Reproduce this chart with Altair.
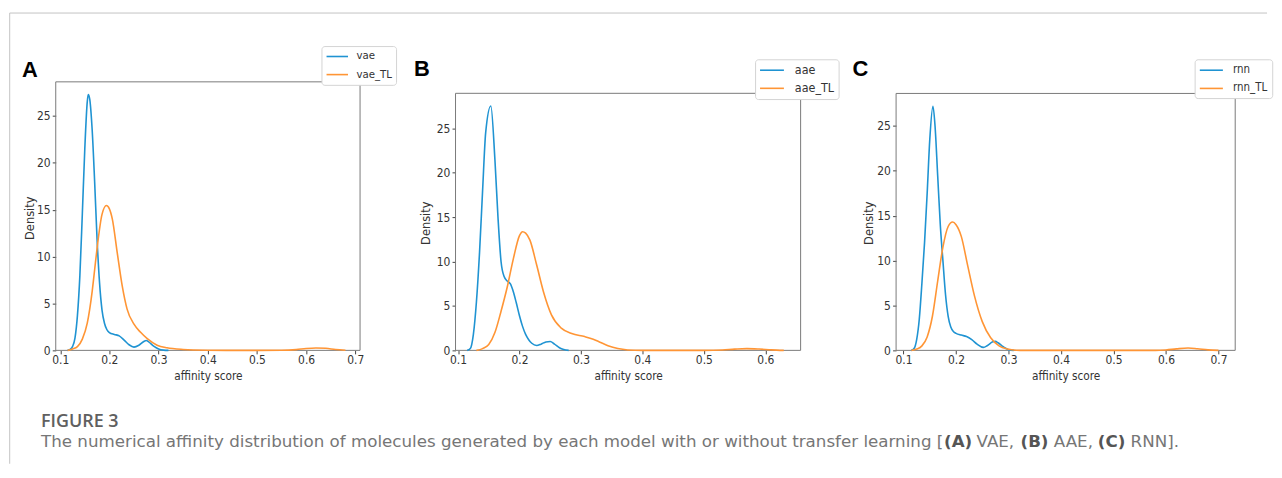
import altair as alt
import pandas as pd

BLUE = "#1f93d2"
ORANGE = "#ff9535"

Y_TICKS = [0, 5, 10, 15, 20, 25]

# ---- Panel A : vae ----
A_SERIES = ["vae", "vae_TL"]
A_VAE_X = [0.115, 0.12, 0.125, 0.13, 0.135, 0.14, 0.145, 0.15, 0.155, 0.157, 0.16, 0.165, 0.17, 0.175,
           0.18, 0.185, 0.19, 0.195, 0.2, 0.21, 0.22, 0.23, 0.24, 0.25, 0.26, 0.27, 0.275, 0.28, 0.29,
           0.3, 0.31, 0.32]
A_VAE_Y = [0, 0.1, 0.4, 1.3, 3.7, 8.0, 14.6, 21.5, 26.5, 27.3, 26.8, 23.5, 18.0, 11.8,
           7.2, 4.3, 2.9, 2.2, 1.9, 1.7, 1.55, 1.1, 0.6, 0.35, 0.55, 0.95, 1.05, 0.9, 0.45,
           0.15, 0.03, 0]
A_TL_X = [0.115, 0.125, 0.135, 0.145, 0.155, 0.16, 0.165, 0.17, 0.175, 0.185, 0.194, 0.2, 0.206,
          0.216, 0.226, 0.236, 0.25, 0.263, 0.277, 0.297, 0.317, 0.35, 0.4, 0.45, 0.55, 0.58, 0.6,
          0.62, 0.64, 0.66, 0.68]
A_TL_Y = [0, 0.15, 0.4, 1.2, 2.9, 4.4, 6.3, 8.6, 10.9, 14.5, 15.45, 15.1, 14.0,
          10.4, 6.9, 4.4, 2.8, 1.95, 1.25, 0.55, 0.27, 0.1, 0.02, 0, 0.01, 0.08, 0.2,
          0.26, 0.22, 0.1, 0.02]
A_XTICKS = [0.1, 0.2, 0.3, 0.4, 0.5, 0.6, 0.7]

# ---- Panel B : aae ----
B_SERIES = ["aae", "aae_TL"]
B_AAE_X = [0.115, 0.12, 0.125, 0.13, 0.135, 0.14, 0.145, 0.1534, 0.16, 0.165, 0.17, 0.175, 0.18,
           0.185, 0.19, 0.195, 0.2, 0.205, 0.21, 0.215, 0.22, 0.228, 0.235, 0.243, 0.25, 0.257,
           0.265, 0.272, 0.28]
B_AAE_Y = [0, 0.2, 1.8, 5.5, 11.0, 18.0, 24.5, 27.5, 21.5, 15.0, 10.0, 8.3, 7.8,
           7.5, 6.6, 5.3, 3.9, 2.7, 1.8, 1.2, 0.8, 0.55, 0.7, 0.95, 1.0, 0.7,
           0.3, 0.1, 0]
B_TL_X = [0.13, 0.14, 0.15, 0.16, 0.17, 0.18, 0.19, 0.2, 0.205, 0.21, 0.217, 0.228, 0.239, 0.252,
          0.268, 0.285, 0.306, 0.32, 0.33, 0.344, 0.36, 0.376, 0.4, 0.5, 0.53, 0.55, 0.57, 0.59,
          0.61, 0.63]
B_TL_Y = [0, 0.2, 0.65, 2.0, 4.4, 7.1, 10.3, 12.9, 13.35, 13.2, 12.4, 9.6, 6.6, 4.0,
          2.5, 1.9, 1.55, 1.25, 0.95, 0.52, 0.2, 0.05, 0, 0, 0.05, 0.14, 0.2, 0.15,
          0.06, 0]
B_XTICKS = [0.1, 0.2, 0.3, 0.4, 0.5, 0.6]

# ---- Panel C : rnn ----
C_SERIES = ["rnn", "rnn_TL"]
C_RNN_X = [0.115, 0.12, 0.125, 0.13, 0.135, 0.14, 0.145, 0.15, 0.156, 0.16, 0.165, 0.17, 0.175,
           0.18, 0.185, 0.19, 0.195, 0.2, 0.21, 0.22, 0.23, 0.24, 0.252, 0.26, 0.27, 0.275, 0.28,
           0.29, 0.3, 0.31]
C_RNN_Y = [0, 0.2, 1.2, 3.5, 7.5, 12.0, 17.5, 23.5, 27.2, 25.0, 19.5, 14.0, 10.0,
           6.2, 3.8, 2.6, 2.1, 1.9, 1.7, 1.55, 1.2, 0.7, 0.33, 0.55, 0.95, 1.0, 0.85,
           0.4, 0.08, 0]
C_TL_X = [0.115, 0.125, 0.135, 0.145, 0.155, 0.165, 0.175, 0.185, 0.1935, 0.2, 0.21, 0.222, 0.235,
          0.25, 0.266, 0.282, 0.298, 0.315, 0.33, 0.58, 0.6, 0.62, 0.642, 0.66, 0.68, 0.7]
C_TL_Y = [0, 0.15, 0.5, 1.5, 3.8, 7.7, 11.5, 13.8, 14.3, 14.0, 12.7, 9.5, 6.1,
          3.2, 1.4, 0.5, 0.15, 0.02, 0, 0, 0.05, 0.17, 0.26, 0.18, 0.06, 0]
C_XTICKS = [0.1, 0.2, 0.3, 0.4, 0.5, 0.6, 0.7]

CAPTION_HEAD = "FIGURE 3"
CAPTION_PARTS = ["The numerical affinity distribution of molecules generated by each model with or without transfer learning [",
                 "(A)", "VAE,", "(B)", "AAE,", "(C)", "RNN]."]
CAPTION_BOLD = [False, True, False, True, False, True, False]

# ---- layout (pixels, relative to panel A plot area) ----
CAPTION_X = [-14.8, 893.2, 925.9, 970.1, 1003.6, 1047.8, 1080.8]

AXIS_FONT = "DejaVu Sans Condensed, DejaVu Sans"
CAP_FONT = "DejaVu Sans"


def one(t=""):
    return pd.DataFrame({"t": [t]})


def make_panel(names, xs_list, ys_list, xticks, xdom, ydom, frame_top, width, ytx, yty, xty, leg, letter, letter_pos):
    rows = []
    for name, xs, ys in zip(names, xs_list, ys_list):
        for x, y in zip(xs, ys):
            rows.append({"score": x, "density": y, "model": name})
    df = pd.DataFrame(rows)

    xscale = alt.Scale(domain=xdom, nice=False, zero=False)
    yscale = alt.Scale(domain=ydom, nice=False, zero=False)
    xaxis = alt.Axis(values=xticks, format=".1f", title="affinity score", grid=False, domain=False,
                     tickSize=3.5, tickColor="#444", tickWidth=1, labelPadding=1.2, labelFlush=False,
                     labelOverlap=False, labelFont=AXIS_FONT, labelFontSize=12, labelColor="#333",
                     titleFont=AXIS_FONT, titleFontSize=11.8, titleFontWeight="normal", titleColor="#333",
                     titleY=xty, titleBaseline="middle")
    yaxis = alt.Axis(values=Y_TICKS, title="Density", grid=False, domain=False,
                     tickSize=3.5, tickColor="#444", tickWidth=1, labelPadding=2.2,
                     labelFont=AXIS_FONT, labelFontSize=12, labelColor="#333",
                     titleFont="DejaVu Sans", titleFontSize=11.5, titleFontWeight="normal", titleColor="#333",
                     titleX=ytx, titleY=yty, titleAngle=270, titleBaseline="middle", titleAlign="center")

    frame_df = pd.DataFrame({"x0": [xdom[0]], "x1": [xdom[1]], "y0": [0.0], "y1": [frame_top]})
    frame = alt.Chart(frame_df).mark_rect(fillOpacity=0, stroke="#7a7a7a", strokeWidth=1).encode(
        x=alt.X("x0:Q", scale=xscale, axis=xaxis, title="affinity score"), x2="x1:Q",
        y=alt.Y("y0:Q", scale=yscale, axis=yaxis, title="Density"), y2="y1:Q")

    lines = alt.Chart(df).mark_line(strokeWidth=1.6, interpolate="monotone").encode(
        x=alt.X("score:Q", scale=xscale, axis=xaxis, title="affinity score"),
        y=alt.Y("density:Q", scale=yscale, axis=yaxis, title="Density"),
        color=alt.Color("model:N", scale=alt.Scale(domain=names, range=[BLUE, ORANGE]),
                        legend=alt.Legend(orient="none", legendX=leg["x"], legendY=leg["y"], title=None,
                                          symbolType="M-1,0H3", symbolSize=leg["size"],
                                          symbolStrokeWidth=1.6, labelOffset=leg["off"],
                                          padding=4.0, rowPadding=leg["rp"], fillColor="white",
                                          strokeColor="#d4d4d4", cornerRadius=3,
                                          labelFont=AXIS_FONT, labelFontSize=leg["fs"], labelColor="#333")),
        order=alt.Order("model:N"),
    )

    lab = alt.Chart(one(letter)).mark_text(font="Liberation Sans", fontSize=22, fontWeight="bold",
                                            align="left", baseline="alphabetic", color="black").encode(
        text="t:N", x=alt.value(letter_pos[0]), y=alt.value(letter_pos[1]))

    return [frame, lines, lab], width


A_layers, wA = make_panel(A_SERIES, [A_VAE_X, A_TL_X], [A_VAE_Y, A_TL_Y], A_XTICKS,
                          [0.0909, 0.7097], [0, 28.64], 28.64, 306, -25.5, 136.6, 25.3,
                          {"x": 267.2, "y": -36, "size": 116.6, "off": 18.2, "rp": 6.2, "fs": 11.4},
                          "A", (-33.8, -4.7))
B_layers, wB = make_panel(B_SERIES, [B_AAE_X, B_TL_X], [B_AAE_Y, B_TL_Y], B_XTICKS,
                          [0.09595, 0.6574], [0, 30.21], 28.92, 347, -29.1, 141.6, 25.0,
                          {"x": 301.2, "y": -22.7, "size": 144, "off": 22.0, "rp": 4.2, "fs": 12.5},
                          "B", (-41.8, -5.7))
C_layers, wC = make_panel(C_SERIES, [C_RNN_X, C_TL_X], [C_RNN_Y, C_TL_Y], C_XTICKS,
                          [0.08579, 0.7319], [0, 29.91], 28.62, 341, -26.5, 141.6, 25.0,
                          {"x": 300.2, "y": -22.7, "size": 134.6, "off": 20.6, "rp": 5.3, "fs": 11.5},
                          "C", (-43.8, -5.7))

# page border lines and caption, attached to panel A
border_left = alt.Chart(one()).mark_rule(color="#c4c4c4", strokeWidth=1).encode(
    x=alt.value(-46.3), y=alt.value(-69.2), y2=alt.value(384))
border_top = alt.Chart(one()).mark_rule(color="#c4c4c4", strokeWidth=1).encode(
    x=alt.value(-46.3), x2=alt.value(1218), y=alt.value(-69.2))

head = alt.Chart(one(CAPTION_HEAD)).mark_text(font="Open Sans", fontSize=18, fontWeight=600, color="#606060",
                                              align="left", baseline="alphabetic").encode(
    text="t:N", x=alt.value(-14.8), y=alt.value(347.5))

cap_layers = []
for txt, bold, px in zip(CAPTION_PARTS, CAPTION_BOLD, CAPTION_X):
    cap_layers.append(
        alt.Chart(one(txt)).mark_text(font=CAP_FONT, fontSize=16.8, fontWeight=("bold" if bold else "normal"),
                                      color=("#555555" if bold else "#767676"),
                                      align="left", baseline="alphabetic").encode(
            text="t:N", x=alt.value(px), y=alt.value(367.5)))

panelA = alt.layer(*A_layers, border_left, border_top, head, *cap_layers).properties(width=wA, height=270)
panelB = alt.layer(*B_layers).properties(width=wB, height=270)
panelC = alt.layer(*C_layers).properties(width=wC, height=270)

chart = alt.hconcat(panelA, panelB, panelC, spacing=96, bounds="flush", background="white",
                    padding={"left": 0, "top": 2, "right": 0, "bottom": 0}).resolve_scale(
    color="independent").configure_view(stroke="transparent")

chart.save("out.html", embed_options={"renderer": "svg", "actions": False})
